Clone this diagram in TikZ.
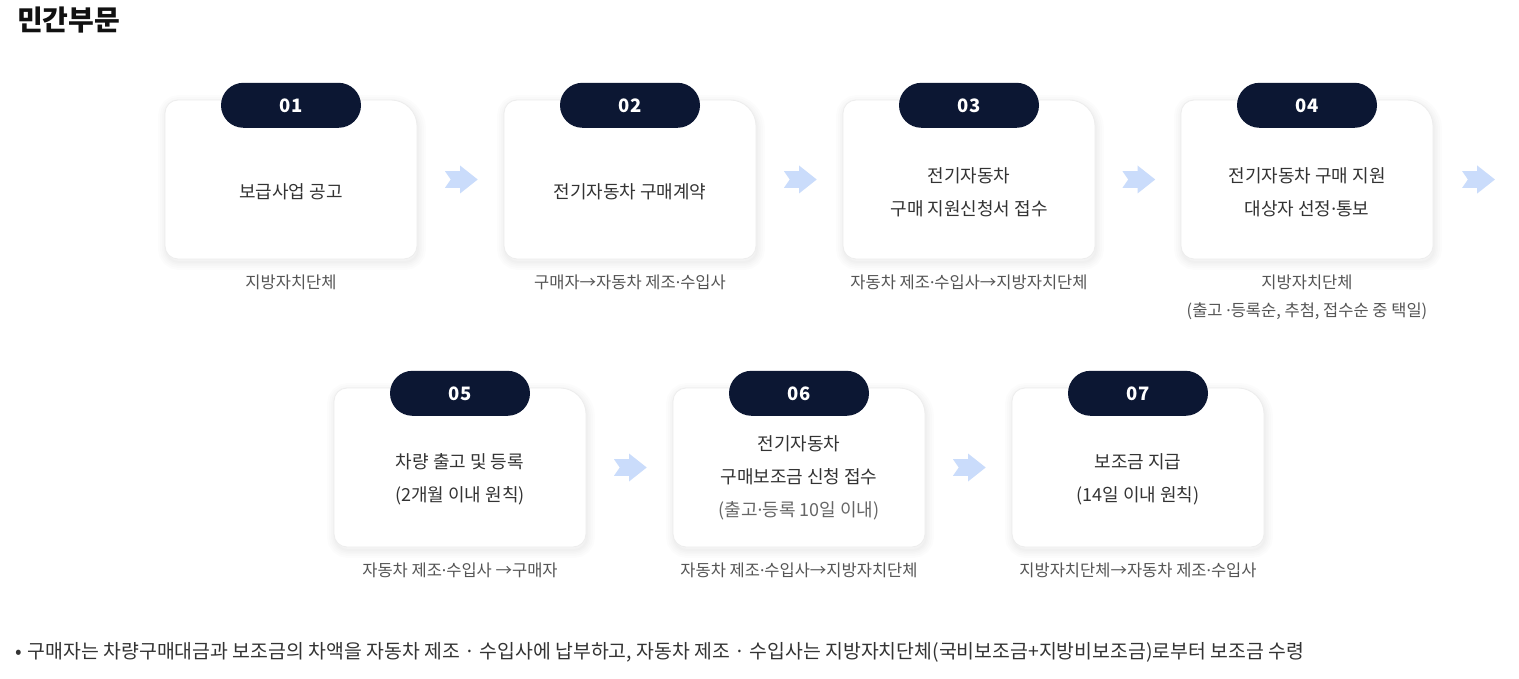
\documentclass[tikz,border=0pt]{standalone}
\usepackage{fontspec}
\setmainfont{Noto Sans CJK KR}
\newfontfamily\latinfont{Noto Sans}
\newcommand{\mdot}{{\latinfont ·}}
\usetikzlibrary{calc}
\definecolor{navy}{HTML}{0C1733}
\definecolor{arrowblue}{HTML}{CADCFB}
\definecolor{maintext}{HTML}{333333}
\definecolor{subtext}{HTML}{555555}
\definecolor{softtext}{HTML}{666666}
\definecolor{cardline}{HTML}{EDEDED}
\definecolor{titlecol}{HTML}{111111}

\tikzset{
 cardbody/.style={fill=white, draw=cardline, line width=0.8pt},
 cardshadow/.style={draw=black, draw opacity=0.011, fill=none},
 cardtext/.style={text=maintext, font=\fontsize{18}{33}\selectfont, align=center, inner sep=0pt},
 badge/.style={fill=navy, rounded corners=22.5pt, minimum width=140pt, minimum height=45pt, inner sep=0pt, text=white, font=\fontsize{18.5}{20}\selectfont\bfseries},
 caption/.style={text=subtext, font=\fontsize{16.5}{28}\selectfont, align=center, inner sep=0pt},
 chev/.style={fill=arrowblue, draw=none},
}

\newcommand{\cardpath}{(0,-13) -- (0,-146) arc[start angle=180,end angle=270,radius=13pt] -- (239,-159) arc[start angle=270,end angle=360,radius=13pt] -- (252,-26) arc[start angle=0,end angle=90,radius=26pt] -- (13,0) arc[start angle=90,end angle=180,radius=13pt] -- cycle}

\newcommand{\cardshape}[3]{%
 \begin{scope}[shift={(#2,-#3)}]
  \foreach \w in {16,12,8,5,2}
    \draw[cardshadow, line width=\w pt, shift={(1,-3)}] \cardpath;
  \draw[cardbody] \cardpath;
  \node[minimum width=252pt, minimum height=159pt, inner sep=0pt] (#1) at (126,-79.5) {};
 \end{scope}}

\newcommand{\chevronat}[1]{%
 \fill[chev, shift={#1}] (-16.5,8.3) -- (-1.5,8.3) -- (-1.5,14) -- (16.2,0) -- (-1.5,-14) -- (-1.5,-8.3) -- (-16.5,-8.3) -- (-10.8,0) -- cycle;}

\begin{document}
\begin{tikzpicture}[x=1pt,y=1pt]
\useasboundingbox (0,0) rectangle (1519,-679);
\fill[white] (0,0) rectangle (1519,-679);

\node[anchor=west, text=titlecol, font=\fontsize{28}{32}\selectfont\bfseries, inner sep=0pt] (title) at (17,-20) {민간부문};

% row 1
\cardshape{c1}{165}{100}
\cardshape{c2}{504}{100}
\cardshape{c3}{843}{100}
\cardshape{c4}{1181}{100}
% row 2
\cardshape{c5}{334}{388}
\cardshape{c6}{673}{388}
\cardshape{c7}{1012}{388}

\foreach \c/\n in {c1/01,c2/02,c3/03,c4/04,c5/05,c6/06,c7/07}
  \node[badge] (b\n) at ([yshift=-5.5pt]\c.north) {\n};

\node[cardtext] (t1) at ([yshift=-12pt]c1.center) {보급사업 공고};
\node[cardtext] (t2) at ([yshift=-12pt]c2.center) {전기자동차 구매계약};
\node[cardtext] (t3) at ([yshift=-13pt]c3.center) {전기자동차\\구매 지원신청서 접수};
\node[cardtext] (t4) at ([yshift=-13pt]c4.center) {전기자동차 구매 지원\\대상자 선정\mdot 통보};
\node[cardtext] (t5) at ([yshift=-11.5pt]c5.center) {차량 출고 및 등록\\(2개월 이내 원칙)};
\node[cardtext] (t6) at ([yshift=-10.5pt]c6.center) {전기자동차\\구매보조금 신청 접수\\{\color{softtext}(출고\mdot 등록 10일 이내)}};
\node[cardtext] (t7) at ([yshift=-11.5pt]c7.center) {보조금 지급\\(14일 이내 원칙)};

\node[caption, anchor=base] (k1) at ([yshift=-29.5pt]c1.south) {지방자치단체};
\node[caption, anchor=base] (k2) at ([yshift=-29.5pt]c2.south) {구매자→자동차 제조\mdot 수입사};
\node[caption, anchor=base] (k3) at ([yshift=-29.5pt]c3.south) {자동차 제조\mdot 수입사→지방자치단체};
\node[caption, anchor=base] (k4) at ([yshift=-57.5pt]c4.south) {지방자치단체\\(출고 \mdot 등록순, 추첨, 접수순 중 택일)};
\node[caption, anchor=base] (k5) at ([yshift=-29.5pt]c5.south) {자동차 제조\mdot 수입사 →구매자};
\node[caption, anchor=base] (k6) at ([yshift=-29.5pt]c6.south) {자동차 제조\mdot 수입사→지방자치단체};
\node[caption, anchor=base] (k7) at ([yshift=-29.5pt]c7.south) {지방자치단체→자동차 제조\mdot 수입사};

\chevronat{($(c1.east)!0.5!(c2.west)+(1,0)$)}
\chevronat{($(c2.east)!0.5!(c3.west)+(1,0)$)}
\chevronat{($(c3.east)!0.5!(c4.west)+(1,0)$)}
\chevronat{($(c4.east)+(45.5,0)$)}
\chevronat{($(c5.east)!0.5!(c6.west)+(1,0)$)}
\chevronat{($(c6.east)!0.5!(c7.west)+(1,0)$)}

\node[anchor=west, text=maintext, font=\fontsize{19.4}{22}\selectfont, inner sep=0pt] (note) at (15,-652) {•\hspace{6pt}구매자는 차량구매대금과 보조금의 차액을 자동차 제조 · 수입사에 납부하고, 자동차 제조 · 수입사는 지방자치단체(국비보조금+지방비보조금)로부터 보조금 수령};
\end{tikzpicture}
\end{document}
